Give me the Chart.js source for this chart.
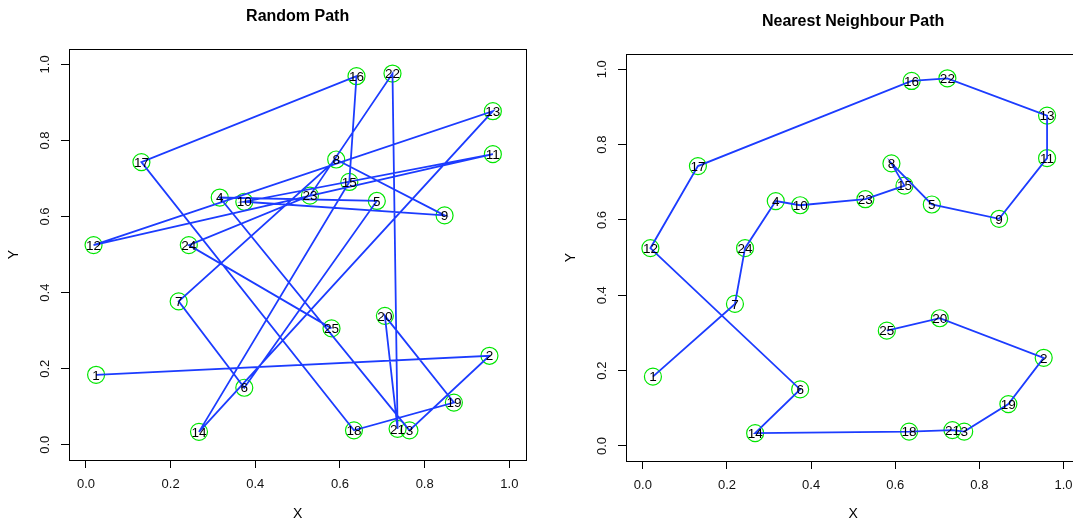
<!DOCTYPE html>
<html>
<head>
<meta charset="utf-8">
<script src="https://cdn.jsdelivr.net/npm/chart.js@4/dist/chart.umd.min.js"></script>
<style>
  html, body { margin: 0; padding: 0; background: #fff; overflow: hidden; width: 1073px; height: 523px; }
  canvas { position: absolute; top: 0; }
  #left { left: 0; }
  #right { left: 536px; }
</style>
</head>
<body>
<canvas id="left" width="536" height="523"></canvas>
<canvas id="right" width="554" height="523"></canvas>
<script>
// city ids and coordinates
const pointIds = [1, 2, 3, 4, 5, 6, 7, 8, 9, 10, 11, 12, 13, 14, 15, 16, 17, 18, 19, 20, 21, 22, 23, 24, 25];
const xs = [0.024, 0.953, 0.764, 0.316, 0.687, 0.374, 0.219, 0.591, 0.847, 0.374, 0.961, 0.018, 0.961,
            0.267, 0.622, 0.639, 0.131, 0.633, 0.869, 0.706, 0.736, 0.724, 0.529, 0.243, 0.580];
const ys = [0.184, 0.234, 0.038, 0.650, 0.641, 0.150, 0.377, 0.750, 0.603, 0.639, 0.764, 0.525, 0.877,
            0.034, 0.691, 0.969, 0.743, 0.038, 0.111, 0.339, 0.042, 0.976, 0.655, 0.525, 0.306];

// visiting orders
const randomOrder = [1, 2, 3, 4, 5, 6, 7, 8, 9, 10, 11, 12, 13, 14, 15, 16, 17, 18, 19, 20, 21, 22, 23, 24, 25];
const nearestOrder = [1, 7, 24, 4, 10, 23, 15, 8, 5, 9, 11, 13, 22, 16, 17, 12, 6, 14, 18, 21, 3, 19, 2, 20, 25];

const tickValues = [0, 0.2, 0.4, 0.6, 0.8, 1.0];

const FONT = '"Liberation Sans", Arial, Helvetica, sans-serif';
const LINE = '#1c3cff';
const GREEN = '#00e600';

Chart.defaults.font.family = FONT;
Chart.defaults.color = '#000';

// R-style box round the plot region
const boxPlugin = {
  id: 'box',
  afterDraw(chart) {
    const { ctx, chartArea: a } = chart;
    ctx.save();
    ctx.strokeStyle = '#000';
    ctx.lineWidth = 1;
    ctx.strokeRect(Math.round(a.left) + 0.5, Math.round(a.top) + 0.5,
      Math.round(a.right - a.left), Math.round(a.bottom - a.top));
    ctx.restore();
  }
};

const labelPlugin = {
  id: 'pointLabels',
  afterDatasetsDraw(chart) {
    const ctx = chart.ctx;
    const meta = chart.getDatasetMeta(1);
    ctx.save();
    ctx.font = '13.5px ' + FONT;
    ctx.fillStyle = '#000';
    ctx.textAlign = 'center';
    ctx.textBaseline = 'middle';
    meta.data.forEach((el, k) => {
      ctx.fillText(String(pointIds[k]), el.x, el.y + 1);
    });
    ctx.restore();
  }
};

function makeChart(id, title, order, g) {
  return new Chart(document.getElementById(id), {
    type: 'scatter',
    data: {
      datasets: [
        {
          type: 'line',
          data: order.map(i => ({ x: xs[i - 1], y: ys[i - 1] })),
          borderColor: LINE,
          borderWidth: 1.8,
          pointRadius: 0,
          fill: false,
          tension: 0,
          order: 1
        },
        {
          data: pointIds.map(i => ({ x: xs[i - 1], y: ys[i - 1] })),
          pointRadius: 8.5,
          pointBorderColor: GREEN,
          pointBackgroundColor: 'rgba(0,0,0,0)',
          pointBorderWidth: 1.2,
          showLine: false,
          order: 2
        }
      ]
    },
    options: {
      responsive: false,
      animation: false,
      devicePixelRatio: 1,
      events: [],
      layout: { padding: { left: g.padLeft, right: g.padRight, top: 0, bottom: 0 } },
      plugins: {
        legend: { display: false },
        tooltip: { enabled: false },
        title: {
          display: true,
          text: title,
          fullSize: false,
          color: '#000',
          font: { size: 16, weight: 'bold' },
          padding: { top: g.titleTop, bottom: g.titleBottom }
        }
      },
      scales: {
        x: {
          type: 'linear',
          min: -0.04,
          max: 1.04,
          afterBuildTicks: s => { s.ticks = tickValues.map(v => ({ value: v })); },
          afterFit: s => { s.height = g.xHeight; },
          grid: { drawOnChartArea: false, drawTicks: true, tickLength: 8, color: '#000' },
          border: { display: false },
          ticks: { font: { size: 13 }, color: '#111', padding: 9, maxRotation: 0, autoSkip: false,
                   callback: v => v.toFixed(1) },
          title: { display: true, text: 'X', font: { size: 14 }, color: '#000', padding: { top: 0, bottom: 0 } }
        },
        y: {
          type: 'linear',
          min: -0.04,
          max: 1.04,
          afterBuildTicks: s => { s.ticks = tickValues.map(v => ({ value: v })); },
          afterFit: s => { s.width = g.yWidth; },
          grid: { drawOnChartArea: false, drawTicks: true, tickLength: 8, color: '#000' },
          border: { display: false },
          ticks: { font: { size: 13 }, color: '#111', padding: 7, minRotation: 90, maxRotation: 90,
                   crossAlign: 'center', autoSkip: false, callback: v => v.toFixed(1) },
          title: { display: true, text: 'Y', font: { size: 14 }, color: '#000', padding: { top: 5.6, bottom: 0 } }
        }
      }
    },
    plugins: [boxPlugin, labelPlugin]
  });
}

makeChart('left', 'Random Path', randomOrder,
  { padLeft: 0, padRight: 8, yWidth: 69, xHeight: 63, titleTop: 7.4, titleBottom: 22.6 });
makeChart('right', 'Nearest Neighbour Path', nearestOrder,
  { padLeft: 21, padRight: 9, yWidth: 69, xHeight: 62, titleTop: 12.4, titleBottom: 22.6 });
</script>
</body>
</html>
